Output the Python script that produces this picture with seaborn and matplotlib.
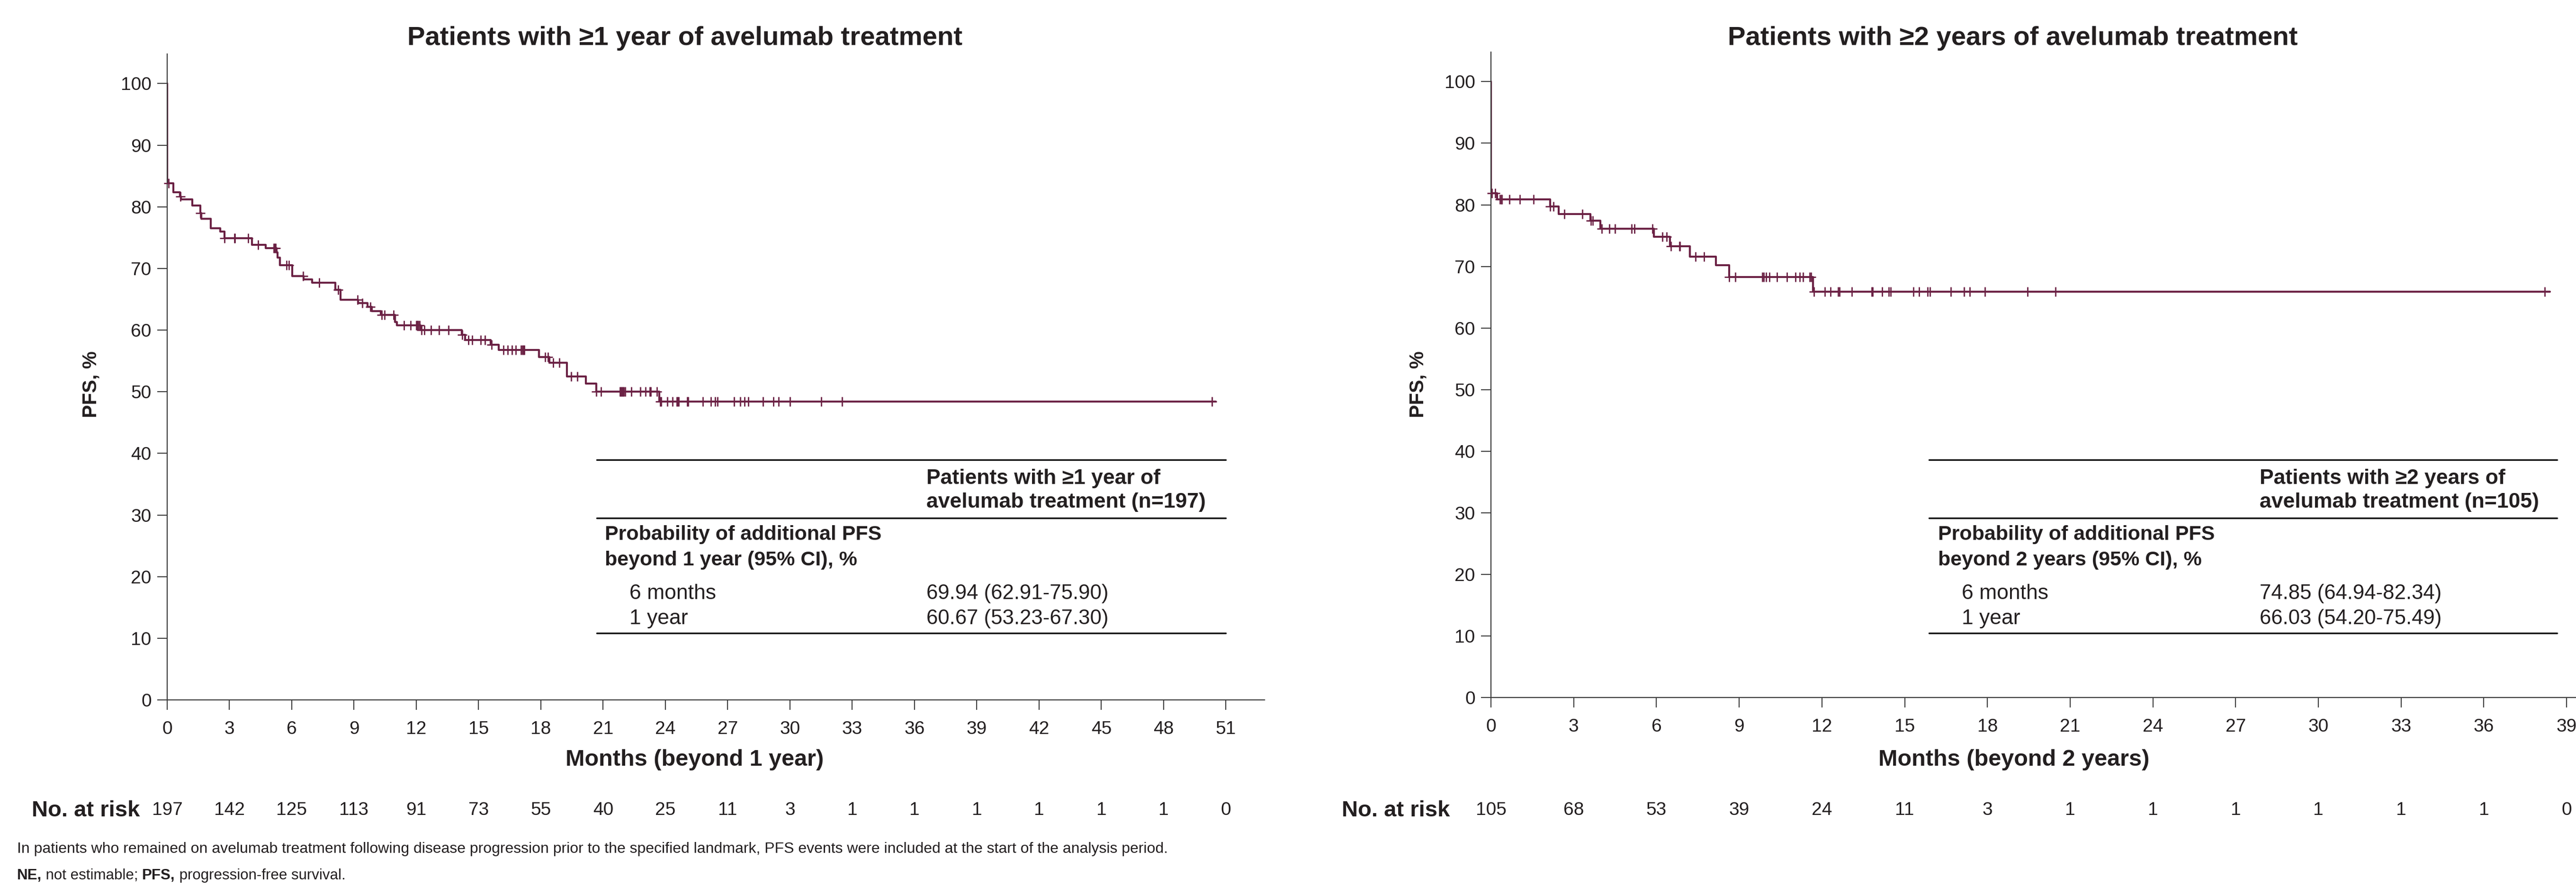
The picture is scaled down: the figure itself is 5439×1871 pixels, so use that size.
import numpy as np
import pandas as pd
import matplotlib
matplotlib.use("Agg")
import matplotlib.pyplot as plt
import matplotlib.transforms as mtransforms
from matplotlib.lines import Line2D
import seaborn as sns

W, H = 5439, 1871
DPI = 100
CURVE = "#6b2144"
INK = "#231f20"
AXIS = "#3a3a3a"

# ---- panel 1: patients with >=1 year of treatment ----
y1_times = [0, 0, 0.29, 0.62, 0.67, 1.21, 1.60, 1.65, 2.09, 2.56, 2.76, 4.09, 4.75,
            5.27, 5.32, 5.44, 6.02, 6.58, 6.97, 8.09, 8.35, 9.20, 9.66, 9.86, 10.29,
            10.97, 11.07, 12.21, 14.18, 14.35, 15.58, 15.98, 17.90, 18.40, 19.25,
            20.16, 20.67, 23.70, 50.5]
y1_surv = [100, 83.8, 82.35, 81.7, 81.2, 80.2, 79.0, 78.05, 76.5, 76.0, 74.9, 73.8, 73.3,
           72.6, 71.8, 70.5, 68.8, 68.2, 67.7, 66.55, 64.9, 64.4, 63.75, 63.1, 62.5,
           61.3, 60.8, 60.0, 59.2, 58.4, 57.6, 56.8, 55.6, 54.7, 52.5,
           51.3, 50.0, 48.4, 48.4]
y1_censored = [0.07, 0.65, 1.60, 2.76, 3.24, 3.27, 3.90, 4.39, 5.14, 5.18, 5.23, 5.76, 5.86,
               6.54, 7.33, 8.24, 9.16, 9.40, 9.79, 10.34, 10.47, 10.90, 11.40, 11.73, 11.99,
               12.04, 12.09, 12.15, 12.25, 12.38, 12.70, 13.09, 13.56, 14.22, 14.5, 14.7,
               15.1, 15.3, 15.62, 16.2, 16.4, 16.6, 16.8, 17.05, 17.1, 17.15, 17.2, 18.2,
               18.35, 18.6, 18.9, 19.45, 19.75, 20.67, 20.9, 21.8, 21.85, 21.9, 21.95, 22.0,
               22.05, 22.35, 22.8, 23.05, 23.25, 23.3, 23.6, 23.75, 23.8, 24.1, 24.35, 24.55,
               24.6, 24.65, 25.05, 25.1, 25.8, 26.2, 26.4, 26.5, 27.3, 27.6, 27.8, 28.0,
               28.7, 29.2, 29.45, 30.0, 31.5, 32.5, 50.33]
y1_ticks = list(range(0, 52, 3))
y1_risk = [197, 142, 125, 113, 91, 73, 55, 40, 25, 11, 3, 1, 1, 1, 1, 1, 1, 0]
y1_title = "Patients with \u22651 year of avelumab treatment"
y1_xlabel = "Months (beyond 1 year)"
y1_head = ["Patients with \u22651 year of", "avelumab treatment (n=197)"]
y1_lab = ["Probability of additional PFS", "beyond 1 year (95% CI), %"]
y1_rows = ["6 months", "1 year"]
y1_vals = ["69.94 (62.91-75.90)", "60.67 (53.23-67.30)"]

# ---- panel 2: patients with >=2 years of treatment ----
y2_times = [0, 0, 0.22, 2.15, 2.45, 3.60, 3.96, 5.91, 6.49, 7.21, 8.15, 8.63, 11.67, 38.4]
y2_surv = [100, 81.9, 80.9, 79.7, 78.5, 77.4, 76.1, 74.8, 73.25, 71.6, 70.2, 68.25, 65.9, 65.9]
y2_censored = [0.04, 0.16, 0.32, 0.37, 0.40, 0.67, 1.04, 1.55, 2.15, 2.27, 2.66, 3.32, 3.62,
               3.69, 4.02, 4.30, 4.50, 5.10, 5.20, 5.85, 6.21, 6.37, 6.53, 6.83, 6.85, 7.42,
               7.72, 8.63, 8.86, 9.84, 9.89, 9.98, 10.10, 10.38, 10.74, 11.04, 11.19, 11.31,
               11.55, 11.61, 11.71, 12.10, 12.31, 12.58, 12.63, 13.09, 13.81, 13.84, 14.18,
               14.42, 14.50, 15.32, 15.52, 15.83, 15.91, 16.67, 17.15, 17.36, 17.91, 19.46,
               20.47, 38.2]
y2_ticks = list(range(0, 40, 3))
y2_risk = [105, 68, 53, 39, 24, 11, 3, 1, 1, 1, 1, 1, 1, 0]
y2_title = "Patients with \u22652 years of avelumab treatment"
y2_xlabel = "Months (beyond 2 years)"
y2_head = ["Patients with \u22652 years of", "avelumab treatment (n=105)"]
y2_lab = ["Probability of additional PFS", "beyond 2 years (95% CI), %"]
y2_rows = ["6 months", "1 year"]
y2_vals = ["74.85 (64.94-82.34)", "66.03 (54.20-75.49)"]

foot1 = ("In patients who remained on avelumab treatment following disease progression "
         "prior to the specified landmark, PFS events were included at the start of the analysis period.")
foot2 = [("NE,", "bold"), (" not estimable; ", "normal"), ("PFS,", "bold"),
         (" progression-free survival.", "normal")]

sns.set_style("ticks")
plt.rcParams["font.family"] = ["Liberation Sans", "DejaVu Sans"]

fig = plt.figure(figsize=(W / DPI, H / DPI), dpi=DPI)


def fy(y):
    return 1 - y / H


def panel(rect, times, surv, cens, xmax, ticks, risk, title, xlabel, tx, xlx, ylx, riskx):
    ax = fig.add_axes(rect)
    df = pd.DataFrame({"t": times, "s": surv})
    sns.lineplot(data=df, x="t", y="s", estimator=None, sort=False,
                 drawstyle="steps-post", color=CURVE, linewidth=3.0, ax=ax)
    idx = np.searchsorted(np.asarray(times), np.asarray(cens), side="right") - 1
    cy = np.asarray(surv)[idx]
    sns.scatterplot(x=cens, y=cy, marker="+", s=220, color=CURVE,
                    linewidth=2.0, ax=ax, zorder=3, clip_on=False)
    ax.set_xlim(0, xmax)
    ax.set_ylim(0, 104.8)
    ax.set_xticks(ticks)
    ax.set_yticks(range(0, 101, 10))
    ax.set_xlabel("")
    ax.set_ylabel("")
    for s in ("top", "right"):
        ax.spines[s].set_visible(False)
    for s in ("left", "bottom"):
        ax.spines[s].set_linewidth(1.6)
        ax.spines[s].set_color(AXIS)
    ax.tick_params(length=15, width=1.5, color=AXIS, labelsize=28, labelcolor=INK)
    ax.tick_params(axis="x", pad=17)
    ax.tick_params(axis="y", pad=9)

    fig.text(tx / W, fy(95), title, ha="center", va="baseline",
             fontsize=40.5, fontweight="bold", color=INK)
    fig.text(xlx / W, fy(1617), xlabel, ha="center", va="baseline",
             fontsize=35, fontweight="bold", color=INK)
    fig.text(ylx / W, fy(812), "PFS, %", ha="center", va="center", rotation=90,
             fontsize=30, fontweight="bold", color=INK)

    trans = mtransforms.blended_transform_factory(ax.transData, fig.transFigure)
    for x, n in zip(ticks, risk):
        ax.text(x, fy(1721), str(n), transform=trans, ha="center", va="baseline",
                fontsize=28, color=INK, clip_on=False)
    fig.text(riskx / W, fy(1724), "No. at risk", ha="right", va="baseline",
             fontsize=34, fontweight="bold", color=INK)
    return ax


def table(x0, x1, xh, xl, xi, head, lab, rows, vals):
    for y in (971, 1094, 1337):
        fig.add_artist(Line2D([x0 / W, x1 / W], [fy(y), fy(y)], transform=fig.transFigure,
                              color="black", linewidth=2.4))
    for txt, yb in zip(head, (1022, 1072)):
        fig.text(xh / W, fy(yb), txt, fontsize=32, fontweight="bold", color=INK, va="baseline")
    for txt, yb in zip(lab, (1140, 1194)):
        fig.text(xl / W, fy(yb), txt, fontsize=31, fontweight="bold", color=INK, va="baseline")
    for name, val, yb in zip(rows, vals, (1265, 1318)):
        fig.text(xi / W, fy(yb), name, fontsize=32, color=INK, va="baseline")
        fig.text(xh / W, fy(yb), val, fontsize=31.5, color=INK, va="baseline")


panel([353 / W, fy(1478), 2317 / W, (1478 - 114) / H], y1_times, y1_surv, y1_censored,
      52.86, y1_ticks, y1_risk, y1_title, y1_xlabel, 1446, 1467, 193, 295)
panel([3148 / W, fy(1473), 2291 / W, (1473 - 110) / H], y2_times, y2_surv, y2_censored,
      39.34, y2_ticks, y2_risk, y2_title, y2_xlabel, 4250, 4252, 2995, 3061)

table(1260, 2588, 1956, 1277, 1329, y1_head, y1_lab, y1_rows, y1_vals)
table(4073, 5399, 4771, 4092, 4142, y2_head, y2_lab, y2_rows, y2_vals)

fig.text(36 / W, fy(1801), foot1, fontsize=23, color=INK, va="baseline")
renderer = fig.canvas.get_renderer()
xpos = 36.0
for piece, weight in foot2:
    t = fig.text(xpos / W, fy(1857), piece, fontsize=22.5, fontweight=weight,
                 color=INK, va="baseline")
    xpos = t.get_window_extent(renderer=renderer).x1

fig.savefig("out.png", dpi=DPI, facecolor="white")
plt.close(fig)
